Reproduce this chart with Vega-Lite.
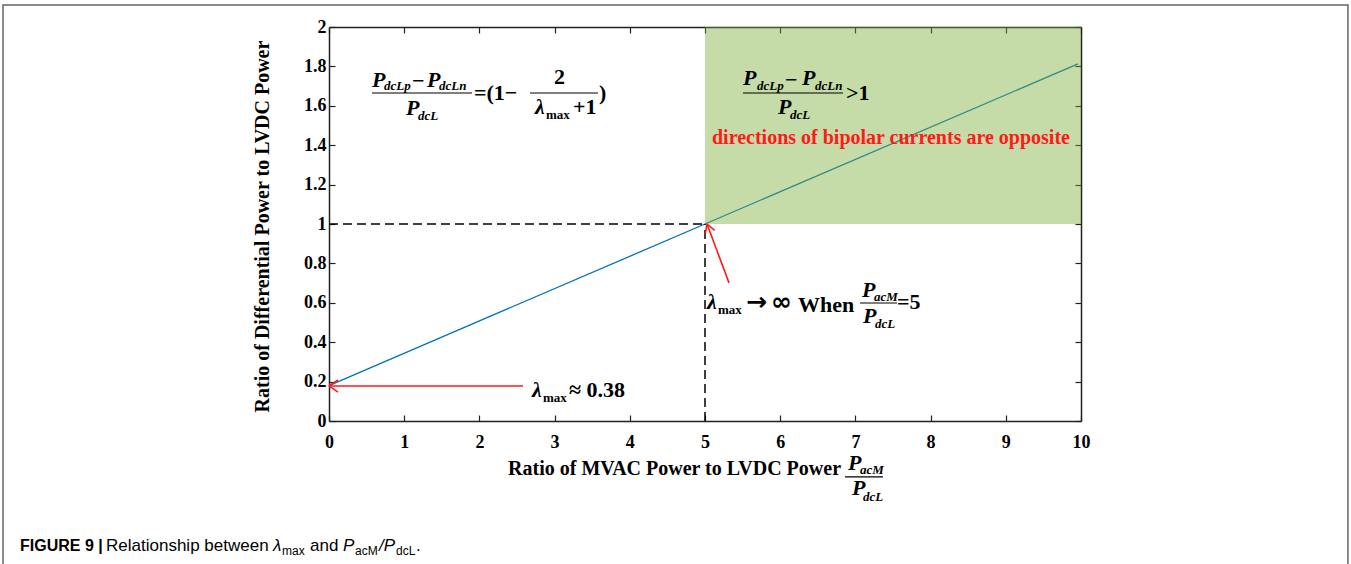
{
  "$schema": "https://vega.github.io/schema/vega-lite/v6.json",
  "width": 752,
  "height": 394,
  "autosize": {"type": "none"},
  "padding": {"left": 329, "top": 27, "right": 270, "bottom": 143},
  "background": "white",
  "config": {"view": {"stroke": null}},
  "datasets": {
    "curve": [
      {"ratio": 0, "diff": 0.18},
      {"ratio": 5, "diff": 1.0},
      {"ratio": 9.96, "diff": 1.813}
    ],
    "region": [{"x": 5, "x2": 10, "y": 1, "y2": 2}],
    "guides": [
      {"x": 0, "y": 1, "x2": 5, "y2": 1},
      {"x": 5, "y": 0, "x2": 5, "y2": 1}
    ],
    "arrows": [
      {"x": 2.58, "y": 0.178, "x2": 0.0, "y2": 0.178},
      {"x": 0.0, "y": 0.178, "x2": 0.12, "y2": 0.208},
      {"x": 0.0, "y": 0.178, "x2": 0.12, "y2": 0.147},
      {"x": 5.319, "y": 0.701, "x2": 5.027, "y2": 1.0},
      {"x": 5.027, "y": 1.0, "x2": 5.004, "y2": 0.95},
      {"x": 5.027, "y": 1.0, "x2": 5.129, "y2": 0.968}
    ],
    "bars": [
      {"x": 0.572, "x2": 1.902, "y": 1.665},
      {"x": 2.673, "x2": 3.577, "y": 1.665},
      {"x": 5.505, "x2": 6.835, "y": 1.665},
      {"x": 7.061, "x2": 7.553, "y": 0.599},
      {"x": 6.862, "x2": 7.367, "y": -0.284}
    ],
    "frame": [{"x": -4.335, "x2": 13.55, "y": 2.112, "y2": -0.9}],
    "labels": [
      {"kind": "mI", "x": 0.572, "y": 1.731, "t": "P"},
      {"kind": "mI", "x": 1.303, "y": 1.731, "t": "P"},
      {"kind": "mI", "x": 1.024, "y": 1.589, "t": "P"},
      {"kind": "mI", "x": 2.739, "y": 1.594, "t": "λ"},
      {"kind": "mI", "x": 5.505, "y": 1.741, "t": "P"},
      {"kind": "mI", "x": 6.29, "y": 1.741, "t": "P"},
      {"kind": "mI", "x": 5.971, "y": 1.594, "t": "P"},
      {"kind": "mI", "x": 5.027, "y": 0.604, "t": "λ"},
      {"kind": "mI", "x": 7.088, "y": 0.665, "t": "P"},
      {"kind": "mI", "x": 7.101, "y": 0.533, "t": "P"},
      {"kind": "mI", "x": 2.699, "y": 0.157, "t": "λ"},
      {"kind": "mI", "x": 6.902, "y": -0.213, "t": "P"},
      {"kind": "mI", "x": 6.955, "y": -0.34, "t": "P"},
      {"kind": "mS", "x": 0.731, "y": 1.701, "t": "dcLp"},
      {"kind": "mS", "x": 1.463, "y": 1.701, "t": "dcLn"},
      {"kind": "mS", "x": 1.184, "y": 1.548, "t": "dcL"},
      {"kind": "mS", "x": 5.691, "y": 1.701, "t": "dcLp"},
      {"kind": "mS", "x": 6.463, "y": 1.701, "t": "dcLn"},
      {"kind": "mS", "x": 6.13, "y": 1.553, "t": "dcL"},
      {"kind": "mS", "x": 7.247, "y": 0.629, "t": "acM"},
      {"kind": "mS", "x": 7.261, "y": 0.492, "t": "dcL"},
      {"kind": "mS", "x": 7.061, "y": -0.249, "t": "acM"},
      {"kind": "mS", "x": 7.1, "y": -0.386, "t": "dcL"},
      {"kind": "mx", "x": 2.886, "y": 1.553, "t": "max"},
      {"kind": "mx", "x": 5.173, "y": 0.563, "t": "max"},
      {"kind": "mx", "x": 2.846, "y": 0.117, "t": "max"},
      {"kind": "mU", "x": 1.104, "y": 1.726, "t": "−"},
      {"kind": "mU", "x": 1.928, "y": 1.665, "t": "=(1−"},
      {"kind": "mU", "x": 2.992, "y": 1.746, "t": "2"},
      {"kind": "mU", "x": 3.245, "y": 1.594, "t": "+1"},
      {"kind": "mU", "x": 3.59, "y": 1.665, "t": ")"},
      {"kind": "mU", "x": 6.064, "y": 1.731, "t": "−"},
      {"kind": "mU", "x": 6.875, "y": 1.665, "t": ">1"},
      {"kind": "sym", "x": 5.545, "y": 0.604, "t": "→"},
      {"kind": "sym", "x": 5.877, "y": 0.604, "t": "∞"},
      {"kind": "mU", "x": 6.237, "y": 0.589, "t": "When"},
      {"kind": "mU", "x": 7.553, "y": 0.604, "t": "=5"},
      {"kind": "mU", "x": 3.191, "y": 0.157, "t": "≈ 0.38"},
      {"kind": "note", "x": 5.093, "y": 1.437, "t": "directions of bipolar currents are opposite"},
      {"kind": "xt", "x": 6.809, "y": -0.244, "t": "Ratio of MVAC Power to LVDC Power"},
      {"kind": "cB", "x": -4.109, "y": -0.6345, "t": "FIGURE 9 |"},
      {"kind": "cR", "x": -2.965, "y": -0.6345, "t": "Relationship between"},
      {"kind": "cI", "x": -0.745, "y": -0.6345, "t": "λ"},
      {"kind": "cS", "x": -0.625, "y": -0.66, "t": "max"},
      {"kind": "cR", "x": -0.253, "y": -0.6345, "t": "and"},
      {"kind": "cI", "x": 0.186, "y": -0.6345, "t": "P"},
      {"kind": "cS", "x": 0.346, "y": -0.66, "t": "acM"},
      {"kind": "cI", "x": 0.665, "y": -0.6345, "t": "/P"},
      {"kind": "cS", "x": 0.891, "y": -0.66, "t": "dcL"},
      {"kind": "cR", "x": 1.157, "y": -0.6345, "t": "."}
    ]
  },
  "resolve": {"axis": {"x": "independent", "y": "independent"}},
  "layer": [
    {
      "data": {"name": "curve"},
      "mark": {"type": "line", "color": "#0072BD", "strokeWidth": 1.3},
      "encoding": {
        "x": {
          "field": "ratio", "type": "quantitative",
          "scale": {"domain": [0, 10], "nice": false, "zero": false},
          "axis": {
            "orient": "bottom", "title": null, "grid": false,
            "values": [0, 1, 2, 3, 4, 5, 6, 7, 8, 9, 10], "format": "d",
            "labelFont": "Liberation Serif", "labelFontWeight": "bold", "labelFontSize": 18,
            "labelColor": "black", "labelPadding": 18, "labelFlush": false, "labelOverlap": false,
            "tickSize": -6, "tickColor": "#222", "tickWidth": 1.2,
            "domainColor": "#222", "domainWidth": 1.5
          }
        },
        "y": {
          "field": "diff", "type": "quantitative",
          "scale": {"domain": [0, 2], "nice": false, "zero": false},
          "axis": {
            "orient": "left", "grid": false,
            "title": "Ratio of Differential Power to LVDC Power",
            "titleFont": "Liberation Serif", "titleFontWeight": "bold", "titleFontSize": 20,
            "titleColor": "black", "titleX": -61, "titleY": 199, "titleAngle": 270,
            "titleBaseline": "alphabetic", "titleAlign": "center",
            "values": [0, 0.2, 0.4, 0.6, 0.8, 1, 1.2, 1.4, 1.6, 1.8, 2], "format": "~g",
            "labelFont": "Liberation Serif", "labelFontWeight": "bold", "labelFontSize": 18,
            "labelColor": "black", "labelPadding": 9, "labelFlush": false, "labelOverlap": false,
            "tickSize": -6, "tickColor": "#222", "tickWidth": 1.2,
            "domainColor": "#222", "domainWidth": 1.5
          }
        }
      }
    },
    {
      "data": {"name": "region"},
      "mark": {"type": "rect", "color": "#77AC30", "opacity": 0.42},
      "encoding": {
        "x": {
          "field": "x", "type": "quantitative",
          "axis": {
            "orient": "top", "title": null, "grid": false, "labels": false,
            "values": [0, 1, 2, 3, 4, 5, 6, 7, 8, 9, 10],
            "tickSize": -6, "tickColor": "#222", "tickWidth": 1.2,
            "domainColor": "#222", "domainWidth": 1.5
          }
        },
        "x2": {"field": "x2"},
        "y": {
          "field": "y", "type": "quantitative",
          "axis": {
            "orient": "right", "title": null, "grid": false, "labels": false,
            "values": [0, 0.2, 0.4, 0.6, 0.8, 1, 1.2, 1.4, 1.6, 1.8, 2],
            "tickSize": -6, "tickColor": "#222", "tickWidth": 1.2,
            "domainColor": "#222", "domainWidth": 1.5
          }
        },
        "y2": {"field": "y2"}
      }
    },
    {
      "data": {"name": "guides"},
      "mark": {"type": "rule", "color": "black", "strokeWidth": 1.5, "strokeDash": [9, 5]},
      "encoding": {
        "x": {"field": "x", "type": "quantitative", "axis": null},
        "y": {"field": "y", "type": "quantitative", "axis": null},
        "x2": {"field": "x2"},
        "y2": {"field": "y2"}
      }
    },
    {
      "data": {"name": "arrows"},
      "mark": {"type": "rule", "color": "#ff1a1a", "strokeWidth": 1.6},
      "encoding": {
        "x": {"field": "x", "type": "quantitative", "axis": null},
        "y": {"field": "y", "type": "quantitative", "axis": null},
        "x2": {"field": "x2"},
        "y2": {"field": "y2"}
      }
    },
    {
      "data": {"name": "bars"},
      "mark": {"type": "rule", "color": "black", "strokeWidth": 1.2},
      "encoding": {
        "x": {"field": "x", "type": "quantitative", "axis": null},
        "x2": {"field": "x2"},
        "y": {"field": "y", "type": "quantitative", "axis": null}
      }
    },
    {
      "data": {"name": "frame"},
      "mark": {"type": "rect", "fill": null, "fillOpacity": 0, "stroke": "#666666", "strokeWidth": 1.5},
      "encoding": {
        "x": {"field": "x", "type": "quantitative", "axis": null},
        "x2": {"field": "x2"},
        "y": {"field": "y", "type": "quantitative", "axis": null},
        "y2": {"field": "y2"}
      }
    },
    {
      "data": {"name": "labels"},
      "transform": [{"filter": "datum.kind === 'mI'"}],
      "mark": {"type": "text", "font": "Liberation Serif", "fontWeight": "bold", "fontStyle": "italic", "fontSize": 22, "align": "left", "baseline": "middle", "color": "black"},
      "encoding": {
        "x": {"field": "x", "type": "quantitative", "axis": null},
        "y": {"field": "y", "type": "quantitative", "axis": null},
        "text": {"field": "t"}
      }
    },
    {
      "data": {"name": "labels"},
      "transform": [{"filter": "datum.kind === 'mS'"}],
      "mark": {"type": "text", "font": "Liberation Serif", "fontWeight": "bold", "fontStyle": "italic", "fontSize": 13, "align": "left", "baseline": "middle", "color": "black"},
      "encoding": {
        "x": {"field": "x", "type": "quantitative", "axis": null},
        "y": {"field": "y", "type": "quantitative", "axis": null},
        "text": {"field": "t"}
      }
    },
    {
      "data": {"name": "labels"},
      "transform": [{"filter": "datum.kind === 'mx'"}],
      "mark": {"type": "text", "font": "Liberation Serif", "fontWeight": "bold", "fontSize": 13, "align": "left", "baseline": "middle", "color": "black"},
      "encoding": {
        "x": {"field": "x", "type": "quantitative", "axis": null},
        "y": {"field": "y", "type": "quantitative", "axis": null},
        "text": {"field": "t"}
      }
    },
    {
      "data": {"name": "labels"},
      "transform": [{"filter": "datum.kind === 'mU'"}],
      "mark": {"type": "text", "font": "Liberation Serif", "fontWeight": "bold", "fontSize": 22, "align": "left", "baseline": "middle", "color": "black"},
      "encoding": {
        "x": {"field": "x", "type": "quantitative", "axis": null},
        "y": {"field": "y", "type": "quantitative", "axis": null},
        "text": {"field": "t"}
      }
    },
    {
      "data": {"name": "labels"},
      "transform": [{"filter": "datum.kind === 'sym'"}],
      "mark": {"type": "text", "font": "DejaVu Sans", "fontWeight": "bold", "fontSize": 25, "align": "left", "baseline": "middle", "color": "black"},
      "encoding": {
        "x": {"field": "x", "type": "quantitative", "axis": null},
        "y": {"field": "y", "type": "quantitative", "axis": null},
        "text": {"field": "t"}
      }
    },
    {
      "data": {"name": "labels"},
      "transform": [{"filter": "datum.kind === 'note'"}],
      "mark": {"type": "text", "font": "Liberation Serif", "fontWeight": "bold", "fontSize": 20, "align": "left", "baseline": "middle", "color": "#ff1a1a"},
      "encoding": {
        "x": {"field": "x", "type": "quantitative", "axis": null},
        "y": {"field": "y", "type": "quantitative", "axis": null},
        "text": {"field": "t"}
      }
    },
    {
      "data": {"name": "labels"},
      "transform": [{"filter": "datum.kind === 'xt'"}],
      "mark": {"type": "text", "font": "Liberation Serif", "fontWeight": "bold", "fontSize": 20, "align": "right", "baseline": "middle", "color": "black"},
      "encoding": {
        "x": {"field": "x", "type": "quantitative", "axis": null},
        "y": {"field": "y", "type": "quantitative", "axis": null},
        "text": {"field": "t"}
      }
    },
    {
      "data": {"name": "labels"},
      "transform": [{"filter": "datum.kind === 'cB'"}],
      "mark": {"type": "text", "font": "Liberation Sans", "fontWeight": "bold", "fontSize": 16, "align": "left", "baseline": "middle", "color": "black"},
      "encoding": {
        "x": {"field": "x", "type": "quantitative", "axis": null},
        "y": {"field": "y", "type": "quantitative", "axis": null},
        "text": {"field": "t"}
      }
    },
    {
      "data": {"name": "labels"},
      "transform": [{"filter": "datum.kind === 'cR'"}],
      "mark": {"type": "text", "font": "Liberation Sans", "fontSize": 17, "align": "left", "baseline": "middle", "color": "black"},
      "encoding": {
        "x": {"field": "x", "type": "quantitative", "axis": null},
        "y": {"field": "y", "type": "quantitative", "axis": null},
        "text": {"field": "t"}
      }
    },
    {
      "data": {"name": "labels"},
      "transform": [{"filter": "datum.kind === 'cI'"}],
      "mark": {"type": "text", "font": "Liberation Sans", "fontStyle": "italic", "fontSize": 17, "align": "left", "baseline": "middle", "color": "black"},
      "encoding": {
        "x": {"field": "x", "type": "quantitative", "axis": null},
        "y": {"field": "y", "type": "quantitative", "axis": null},
        "text": {"field": "t"}
      }
    },
    {
      "data": {"name": "labels"},
      "transform": [{"filter": "datum.kind === 'cS'"}],
      "mark": {"type": "text", "font": "Liberation Sans", "fontSize": 12, "align": "left", "baseline": "middle", "color": "black"},
      "encoding": {
        "x": {"field": "x", "type": "quantitative", "axis": null},
        "y": {"field": "y", "type": "quantitative", "axis": null},
        "text": {"field": "t"}
      }
    }
  ]
}
